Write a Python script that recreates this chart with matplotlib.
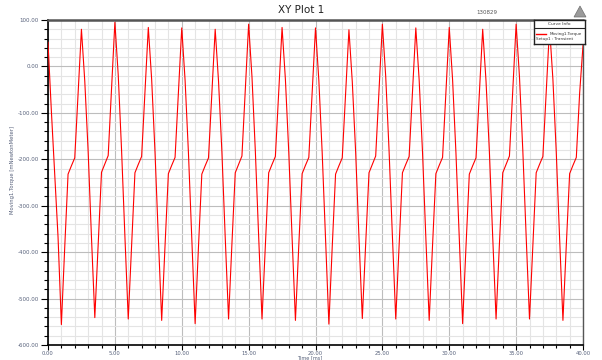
import numpy as np
import matplotlib
matplotlib.use("Agg")
import matplotlib.pyplot as plt
from matplotlib.ticker import MultipleLocator, FormatStrFormatter
from matplotlib.patches import Polygon

# torque samples every 0.25 ms
torque = [
    52, -95, -230, -367, -556, -390, -232, -214, -197, -60,     # 0.0
    80, -32, -182, -368, -541, -382, -228, -210, -192, -50,     # 2.5
    95, -18, -180, -366, -544, -384, -229, -211, -194, -55,     # 5.0
    84, -28, -184, -369, -547, -386, -231, -213, -196, -57,     # 7.5
    83, -30, -186, -371, -554, -389, -232, -214, -197, -58,     # 10.0
    80, -32, -183, -368, -544, -383, -229, -211, -193, -52,     # 12.5
    91, -22, -181, -366, -544, -384, -229, -211, -194, -55,     # 15.0
    84, -28, -184, -369, -547, -386, -231, -213, -196, -57,     # 17.5
    83, -30, -186, -371, -555, -389, -232, -214, -197, -58,     # 20.0
    79, -33, -183, -368, -543, -383, -229, -211, -193, -52,     # 22.5
    91, -22, -181, -366, -544, -384, -229, -211, -194, -55,     # 25.0
    83, -29, -184, -369, -547, -386, -231, -213, -196, -57,     # 27.5
    84, -29, -186, -371, -554, -389, -232, -214, -197, -58,     # 30.0
    80, -32, -183, -368, -544, -383, -229, -211, -193, -52,     # 32.5
    91, -22, -181, -366, -544, -384, -229, -211, -194, -55,     # 35.0
    84, -28, -184, -369, -547, -386, -231, -213, -196, -57,     # 37.5
    45,                                                         # 40.0
]
time_ms = np.arange(len(torque)) * 0.25

tick_col = "#56607a"

fig = plt.figure(figsize=(6.02, 3.6), dpi=100)
ax = fig.add_axes([48 / 602, 15 / 360, 535 / 602, 325 / 360])

ax.plot(time_ms, torque, color="#ff0000", lw=0.8, zorder=3)

ax.set_xlim(0, 40)
ax.set_ylim(-600, 100)
ax.xaxis.set_major_locator(MultipleLocator(5))
ax.xaxis.set_minor_locator(MultipleLocator(1))
ax.yaxis.set_major_locator(MultipleLocator(100))
ax.yaxis.set_minor_locator(MultipleLocator(20))
ax.xaxis.set_major_formatter(FormatStrFormatter("%.2f"))
ax.yaxis.set_major_formatter(FormatStrFormatter("%.2f"))

# grid: light minor lines, darker major lines
ax.grid(which="minor", color="#e4e4e4", lw=0.8, zorder=0)
ax.grid(which="major", color="#bdbdbd", lw=0.8, zorder=1)
ax.set_axisbelow(True)

ax.tick_params(which="major", direction="out", length=5, width=0.8,
               labelsize=4, labelcolor=tick_col, pad=1.5)
ax.tick_params(which="minor", direction="out", length=3, width=0.8)
ax.tick_params(axis="x", which="major", length=3.5, pad=0.5, labelsize=3.8)
ax.tick_params(axis="x", which="minor", length=2.5)
ax.tick_params(top=False, right=False)

for side in ["left", "bottom"]:
    ax.spines[side].set_color("black")
    ax.spines[side].set_linewidth(1.2)
ax.spines["top"].set_color("#555555")
ax.spines["top"].set_linewidth(1.8)
ax.spines["right"].set_color("#555555")
ax.spines["right"].set_linewidth(1.0)

ax.set_ylabel("Moving1.Torque [mNewtonMeter]", fontsize=3.8, color=tick_col)
ax.yaxis.set_label_coords(-0.062, 0.54)
ax.set_xlabel("Time [ms]", fontsize=3.6, color=tick_col)
ax.xaxis.set_label_coords(0.49, -15 / 325)
ax.xaxis.label.set_va("bottom")

fig.text(0.5, 0.972, "XY Plot 1", ha="center", va="center", fontsize=7.5, color="#222222")
fig.text(487 / 602, 1 - 13 / 360, "130829", ha="center", va="center", fontsize=4, color="#555555")

# little logo in the corner
logo = Polygon([[574 / 602, 1 - 17 / 360], [586 / 602, 1 - 17 / 360], [580 / 602, 1 - 6 / 360]],
               closed=True, transform=fig.transFigure, facecolor="#9a9a9a", edgecolor="#707070", lw=0.5)
fig.patches.append(logo)

# curve info box
lg = fig.add_axes([534 / 602, 1 - 44 / 360, 51 / 602, 24 / 360])
lg.set_xlim(0, 1)
lg.set_ylim(0, 1)
lg.set_xticks([])
lg.set_yticks([])
lg.set_facecolor("white")
for s in lg.spines.values():
    s.set_color("#222222")
    s.set_linewidth(1.0)
lg.text(0.5, 0.82, "Curve Info", ha="center", va="center", fontsize=3.2, color="#333333")
lg.axhline(0.66, color="#222222", lw=0.8)
lg.plot([0.04, 0.24], [0.42, 0.42], color="#ff0000", lw=1.0)
lg.text(0.30, 0.42, "Moving1.Torque", ha="left", va="center", fontsize=3.0, color="#333333")
lg.text(0.03, 0.2, "Setup1 : Transient", ha="left", va="center", fontsize=3.0, color="#333333")

fig.savefig("out.png", dpi=100)
